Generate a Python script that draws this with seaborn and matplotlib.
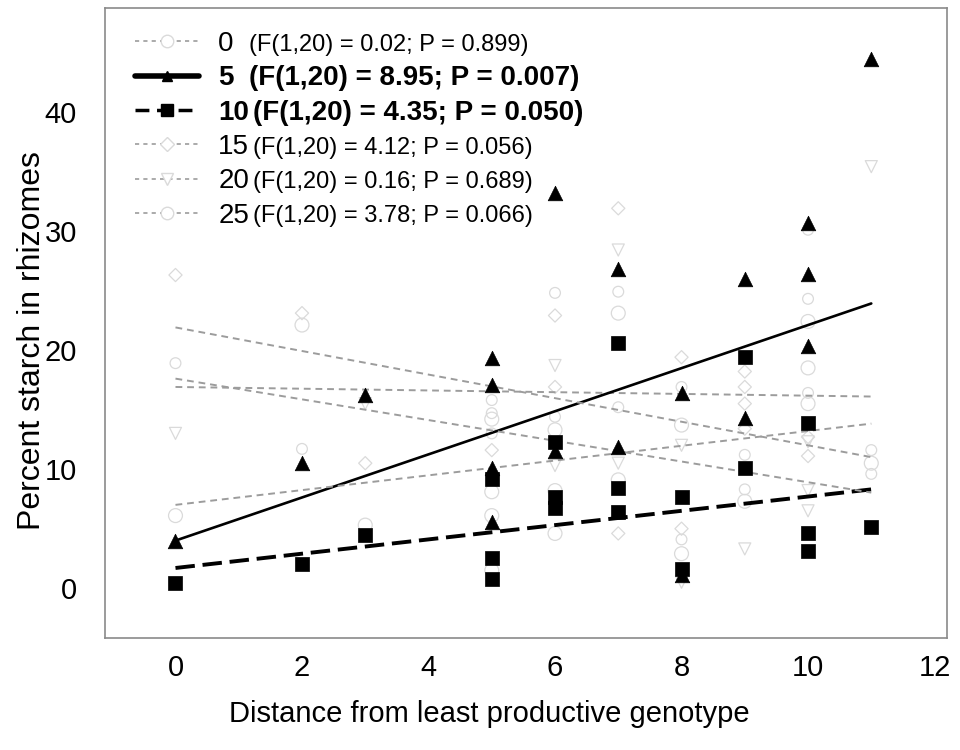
import numpy as np
import pandas as pd
import matplotlib.pyplot as plt
import matplotlib.lines as mlines
import seaborn as sns

# =============================== #
# data
# =============================== #
groups = [0, 5, 10, 15, 20, 25]
stats = ["(F(1,20) = 0.02; P = 0.899)", "(F(1,20) = 8.95; P = 0.007)",
         "(F(1,20) = 4.35; P = 0.050)", "(F(1,20) = 4.12; P = 0.056)",
         "(F(1,20) = 0.16; P = 0.689)", "(F(1,20) = 3.78; P = 0.066)"]

x_g0 = [0, 2, 5, 5, 5, 6, 6, 7, 7, 8, 8, 9, 9, 10, 10, 10, 11, 11]
y_g0 = [18.9, 11.7, 15.8, 14.7, 13.0, 24.8, 14.4, 24.9, 15.2, 16.9, 4.1, 11.2, 8.3, 30.1, 24.3, 16.4, 11.6, 9.6]

x_g5 = [0, 2, 3, 5, 5, 5, 5, 6, 6, 7, 7, 8, 8, 9, 9, 10, 10, 10, 11]
y_g5 = [4.0, 10.5, 16.2, 19.3, 17.1, 10.1, 5.6, 33.2, 11.5, 26.8, 11.9, 16.4, 1.1, 26.0, 14.3, 30.7, 26.4, 20.3, 44.4]

x_g10 = [0, 2, 3, 5, 5, 5, 6, 6, 6, 7, 7, 7, 8, 8, 9, 9, 10, 10, 10, 11]
y_g10 = [0.4, 2.0, 4.5, 9.2, 2.5, 0.75, 12.3, 7.7, 6.7, 20.6, 8.4, 6.4, 7.7, 1.65, 19.4, 10.1, 13.9, 4.6, 3.1, 5.1]

x_g15 = [0, 2, 3, 5, 6, 6, 7, 7, 8, 8, 9, 9, 9, 9, 10, 10]
y_g15 = [26.3, 23.1, 10.5, 11.6, 22.9, 16.9, 31.9, 4.6, 19.4, 5.0, 18.2, 16.9, 15.5, 13.4, 12.7, 11.1]

x_g20 = [0, 3, 5, 6, 6, 7, 7, 7, 8, 8, 9, 10, 10, 10, 11]
y_g20 = [13.0, 15.5, 9.2, 18.7, 10.3, 28.4, 10.5, 6.4, 12.0, 0.5, 3.3, 12.3, 8.2, 6.5, 35.4]

x_g25 = [0, 2, 3, 5, 5, 5, 5, 6, 6, 6, 7, 7, 8, 8, 9, 10, 10, 10, 11]
y_g25 = [6.1, 22.1, 5.3, 14.2, 8.1, 6.1, 1.5, 13.3, 8.2, 4.6, 23.1, 9.1, 13.7, 2.9, 7.3, 22.4, 18.5, 15.5, 10.5]

# fitted regression lines (intercept, slope), drawn over the observed range
fit_intercept = [16.9, 4.0, 1.7, 21.9, 7.0, 17.6]
fit_slope = [-0.073, 1.81, 0.60, -0.99, 0.62, -0.87]
fit_x = [0, 11]

x_ticks = [0, 2, 4, 6, 8, 10, 12]
y_ticks = [0, 10, 20, 30, 40]

xs = [x_g0, x_g5, x_g10, x_g15, x_g20, x_g25]
ys = [y_g0, y_g5, y_g10, y_g15, y_g20, y_g25]

# =============================== #
# styles
# =============================== #
light = "#dadada"
grey_line = "#9c9c9c"
markers = {0: "o", 5: "^", 10: "s", 15: "D", 20: "v", 25: "o"}
msize = {0: 60, 5: 110, 10: 95, 15: 45, 20: 75, 25: 100}
bold_groups = [5, 10]

sns.set_style("white")
plt.rcParams['font.family'] = ['Liberation Sans', 'DejaVu Sans']
plt.rcParams['text.color'] = 'black'
plt.rcParams['axes.labelcolor'] = 'black'
plt.rcParams['xtick.color'] = 'black'
plt.rcParams['ytick.color'] = 'black'

f, ax = plt.subplots()
f.set_size_inches(9.6, 7.5)
plt.subplots_adjust(left=0.109, right=0.986, bottom=0.149, top=0.989)

# light points first, black ones on top
order = [0, 15, 20, 25, 10, 5]
for g in order:
    i = groups.index(g)
    df2 = pd.DataFrame({"x": xs[i], "y": ys[i]})
    if g in bold_groups:
        sns.scatterplot(data=df2, x="x", y="y", ax=ax, marker=markers[g], s=msize[g],
                        color="black", edgecolor="black", linewidth=0.5, zorder=4)
    else:
        sns.scatterplot(data=df2, x="x", y="y", ax=ax, marker=markers[g], s=msize[g],
                        facecolor="none", edgecolor=light, linewidth=0.9, zorder=2)

# regression lines
for i, g in enumerate(groups):
    fx = np.array(fit_x, dtype=float)
    fy = fit_intercept[i] + fit_slope[i] * fx
    if g == 5:
        ax.plot(fx, fy, color="black", lw=1.9, zorder=3)
    elif g == 10:
        ax.plot(fx, fy, color="black", lw=2.8, dashes=(5, 2), zorder=3)
    else:
        ax.plot(fx, fy, color=grey_line, lw=1.4, dashes=(3.5, 2.5), zorder=3)

ax.set_xlim(-1.12, 12.19)
ax.set_ylim(-4.2, 48.7)
ax.set_xticks(x_ticks)
ax.set_yticks(y_ticks)
ax.tick_params(length=0, labelsize=21, pad=11)
ax.tick_params(axis='y', pad=20)
ax.set_xlabel("Distance from least productive genotype", fontsize=21)
ax.set_ylabel("Percent starch in rhizomes", fontsize=23)
ax.xaxis.set_label_coords(0.457, -0.098)
ax.yaxis.set_label_coords(-0.068, 0.473)
for s in ax.spines.values():
    s.set_color("#8a8a8a")
    s.set_linewidth(1.2)

# legend
handles = []
for g in groups:
    if g == 5:
        h = mlines.Line2D([], [], color="black", lw=4, marker="^", markersize=7)
    elif g == 10:
        h = mlines.Line2D([], [], color="black", lw=2.5, dashes=(4, 2.2), marker="s", markersize=9)
    else:
        h = mlines.Line2D([], [], color=grey_line, lw=1.2, dashes=(2.5, 2.5), marker=markers[g],
                          markersize=9 if g != 15 else 7, markerfacecolor="white", markeredgecolor=light)
    handles.append(h)

leg = ax.legend(handles=handles, labels=[str(g) for g in groups], loc="upper left",
                bbox_to_anchor=(0.036, 0.964), frameon=False, fontsize=20, borderpad=0,
                borderaxespad=0, handlelength=2.3, handletextpad=0.7, labelspacing=0.30)

for t, g, st in zip(leg.get_texts(), groups, stats):
    gap = 3 if len(str(g)) > 1 else 11
    if g in bold_groups:
        t.set_fontweight("bold")
        ax.annotate(st, xy=(1, 0), xycoords=t, xytext=(gap, 0), textcoords="offset points",
                    va="bottom", ha="left", fontsize=20, fontweight="bold", zorder=10)
    else:
        ax.annotate(st, xy=(1, 0), xycoords=t, xytext=(gap, 1), textcoords="offset points",
                    va="bottom", ha="left", fontsize=17, zorder=10)

plt.savefig("out.png", dpi=100)
